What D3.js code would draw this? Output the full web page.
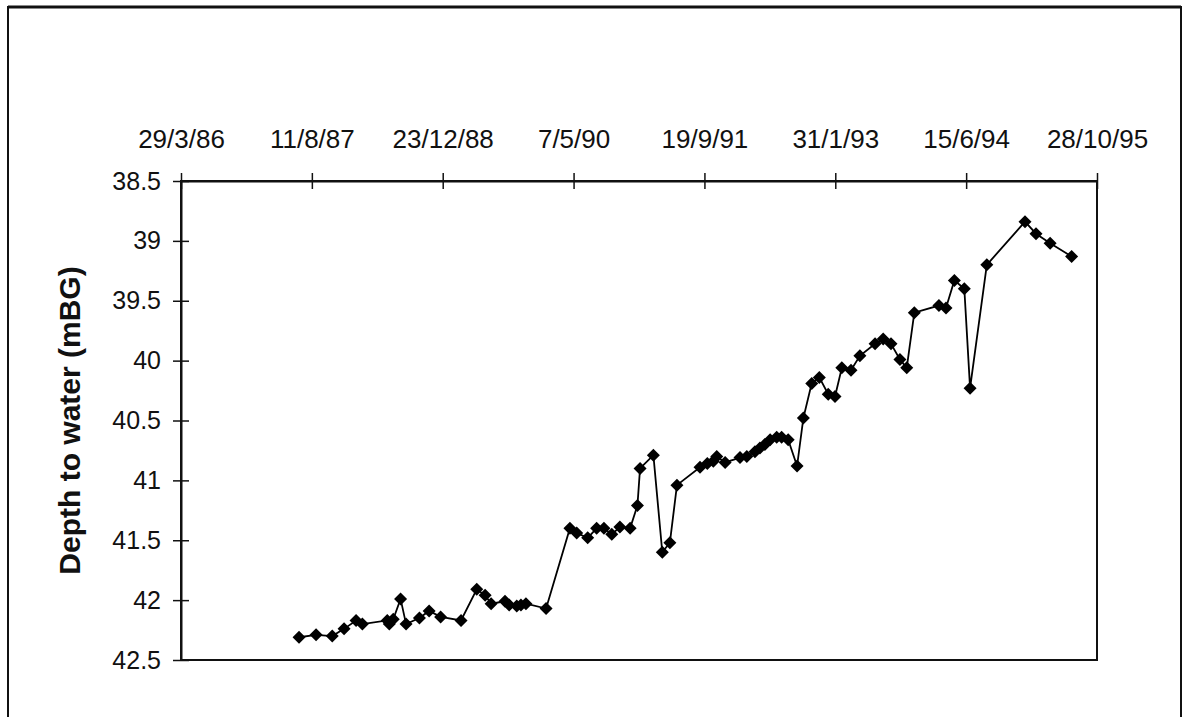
<!DOCTYPE html>
<html>
<head>
<meta charset="utf-8">
<script src="https://cdn.jsdelivr.net/npm/d3@7"></script>
<style>
  html, body { margin: 0; padding: 0; background: #fff; }
  svg { display: block; }
</style>
</head>
<body>
<svg id="chart" width="1188" height="717"></svg>
<script>
// ---- data ----
const dates = ["1987-06-23","1987-08-27","1987-10-28","1987-12-12",
  "1988-01-27","1988-02-20","1988-05-25","1988-06-02","1988-06-17","1988-07-15","1988-08-05","1988-09-25","1988-11-01","1988-12-15",
  "1989-03-03","1989-05-02","1989-06-03","1989-06-26","1989-08-18","1989-09-03","1989-10-02","1989-10-18","1989-11-06",
  "1990-01-22","1990-04-23","1990-05-19","1990-06-30","1990-08-03","1990-08-31","1990-09-30","1990-10-31","1990-12-09",
  "1991-01-06","1991-01-16","1991-03-08","1991-04-11","1991-05-10","1991-06-06","1991-09-02","1991-09-30","1991-10-23","1991-11-05","1991-12-07",
  "1992-02-02","1992-02-28","1992-03-30","1992-04-18","1992-05-07","1992-05-27","1992-06-21","1992-07-10","1992-08-04","1992-09-07","1992-10-01","1992-11-02","1992-12-01",
  "1993-01-04","1993-01-30","1993-02-25","1993-04-01","1993-05-05","1993-07-02","1993-08-02","1993-09-01","1993-10-05","1993-10-31","1993-11-29",
  "1994-03-03","1994-03-30","1994-05-01","1994-06-08","1994-06-30","1994-09-02",
  "1995-01-26","1995-03-09","1995-05-02","1995-07-23"];
const depth = [42.31,42.29,42.30,42.24,
  42.17,42.20,42.17,42.20,42.16,41.99,42.20,42.15,42.09,42.14,
  42.17,41.91,41.96,42.03,42.01,42.04,42.05,42.04,42.03,
  42.07,41.40,41.44,41.48,41.40,41.40,41.45,41.39,41.40,
  41.21,40.90,40.79,41.60,41.52,41.04,40.89,40.86,40.84,40.80,40.85,
  40.81,40.80,40.76,40.73,40.70,40.66,40.64,40.64,40.66,40.88,40.48,40.19,40.14,
  40.28,40.30,40.06,40.08,39.96,39.86,39.82,39.86,39.99,40.06,39.60,
  39.54,39.56,39.33,39.40,40.23,39.20,
  38.84,38.94,39.02,39.13];
const xTickDates = ["1986-03-29","1987-08-11","1988-12-23","1990-05-07","1991-09-19","1993-01-31","1994-06-15","1995-10-28"];
const xTickLabels = ["29/3/86","11/8/87","23/12/88","7/5/90","19/9/91","31/1/93","15/6/94","28/10/95"];
const yTicks = [38.5,39,39.5,40,40.5,41,41.5,42,42.5];
const yTickLabels = ["38.5","39","39.5","40","40.5","41","41.5","42","42.5"];
const yTitle = "Depth to water (mBG)";

// ---- drawing ----
const parse = d3.utcParse("%Y-%m-%d");
const svg = d3.select("#chart");
const L = 181, R = 1097, T = 181, B = 660;

// outer frame
svg.append("rect").attr("x", 8).attr("y", 7).attr("width", 1173).attr("height", 730)
  .attr("fill", "none").attr("stroke", "#111").attr("stroke-width", 2);
svg.append("line").attr("x1", 8).attr("x2", 1181).attr("y1", 7).attr("y2", 7)
  .attr("stroke", "#111").attr("stroke-width", 3);

const xTickVals = xTickDates.map(parse);
const x = d3.scaleUtc().domain([xTickVals[0], xTickVals[xTickVals.length - 1]]).range([L, R]);
const y = d3.scaleLinear().domain([38.5, 42.5]).range([T, B]);

// plot box
svg.append("rect").attr("x", L).attr("y", T).attr("width", R - L).attr("height", B - T)
  .attr("fill", "none").attr("stroke", "#111").attr("stroke-width", 2);

const font = "'Liberation Sans', Arial, sans-serif";

const xAxis = d3.axisTop(x).tickValues(xTickVals)
  .tickFormat((d, i) => xTickLabels[i]).tickSize(8).tickSizeOuter(0).tickPadding(25);
const gx = svg.append("g").attr("transform", `translate(0,${T})`).call(xAxis);
gx.select(".domain").attr("stroke", "#111").attr("stroke-width", 2);
gx.selectAll(".tick line").attr("y1", 8).attr("stroke", "#111").attr("stroke-width", 1.5);
gx.selectAll(".tick text").attr("font-family", font).attr("font-size", 26).attr("fill", "#111");

const yAxis = d3.axisLeft(y).tickValues(yTicks)
  .tickFormat((d, i) => yTickLabels[i]).tickSize(8).tickSizeOuter(0).tickPadding(12);
const gy = svg.append("g").attr("transform", `translate(${L},0)`).call(yAxis);
gy.select(".domain").attr("stroke", "#111").attr("stroke-width", 2);
gy.selectAll(".tick line").attr("x1", 8).attr("stroke", "#111").attr("stroke-width", 1.5);
gy.selectAll(".tick text").attr("font-family", font).attr("font-size", 25).attr("fill", "#111");

// y title
svg.append("text")
  .attr("transform", `translate(69,${(T + B) / 2}) rotate(-90)`)
  .attr("text-anchor", "middle").attr("dominant-baseline", "central")
  .attr("font-family", font).attr("font-weight", "bold").attr("font-size", 30)
  .attr("fill", "#111").text(yTitle);

// series
const data = dates.map((d, i) => ({ date: parse(d), v: depth[i] }));
const line = d3.line().x(d => x(d.date)).y(d => y(d.v));
svg.append("path").datum(data).attr("d", line)
  .attr("fill", "none").attr("stroke", "#000").attr("stroke-width", 1.8);

const s = 6.5;
svg.append("g").selectAll("path").data(data).join("path")
  .attr("transform", d => `translate(${x(d.date)},${y(d.v)})`)
  .attr("d", `M0,${-s}L${s},0L0,${s}L${-s},0Z`)
  .attr("fill", "#000");
</script>
</body>
</html>
